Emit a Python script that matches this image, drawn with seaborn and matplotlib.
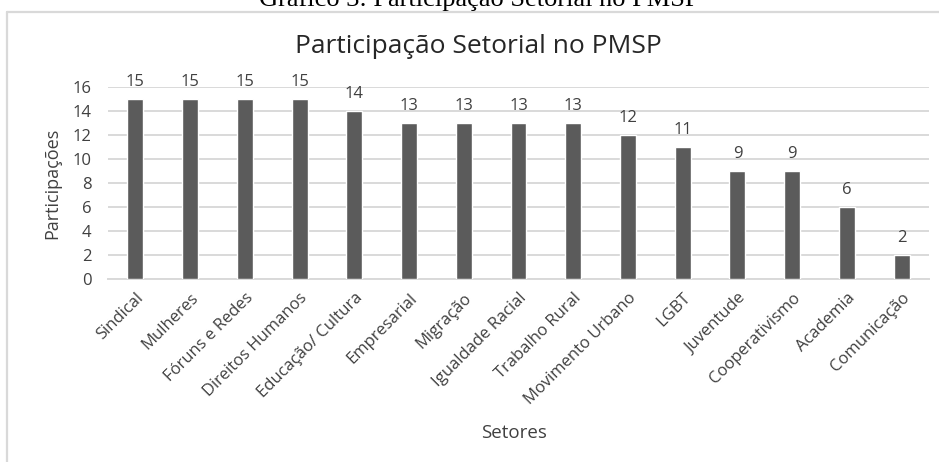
import matplotlib
matplotlib.use("Agg")
import matplotlib.pyplot as plt
from matplotlib.lines import Line2D
import seaborn as sns
import pandas as pd

setores = ["Sindical", "Mulheres", "Fóruns e Redes", "Direitos Humanos",
           "Educação/ Cultura", "Empresarial", "Migração", "Igualdade Racial",
           "Trabalho Rural", "Movimento Urbano", "LGBT", "Juventude",
           "Cooperativismo", "Academia", "Comunicação"]
participacoes = [15, 15, 15, 15, 14, 13, 13, 13, 13, 12, 11, 9, 9, 6, 2]
yticks = [0, 2, 4, 6, 8, 10, 12, 14, 16]

df = pd.DataFrame({"Setor": setores, "Participações": participacoes})

sns.set_theme(style="white")
plt.rcParams["font.family"] = ["Open Sans", "DejaVu Sans"]

W, H = 939, 462
fig = plt.figure(figsize=(W / 100, H / 100), dpi=100)
ax = fig.add_axes([108 / W, 1 - 279 / H, 821 / W, 192 / H])

sns.barplot(data=df, x="Setor", y="Participações", color="#5b5b5b",
            saturation=1, width=0.29, ax=ax, zorder=3)

ax.set_ylim(0, 16)
ax.set_yticks(yticks)
ax.set_yticklabels([str(v) for v in yticks], fontsize=12, color="#404040")
ax.yaxis.grid(True, color="#d9d9d9", linewidth=1.4, zorder=0)
ax.set_axisbelow(True)
ax.tick_params(axis="both", length=0)
ax.tick_params(axis="y", pad=12)
for s in ["top", "right", "left"]:
    ax.spines[s].set_visible(False)
ax.spines["bottom"].set_color("#d9d9d9")
ax.spines["bottom"].set_linewidth(1.4)

ax.set_xticks(range(len(setores)))
ax.set_xticklabels(setores, rotation=45, ha="right", rotation_mode="anchor",
                   fontsize=12, color="#404040")
ax.tick_params(axis="x", pad=8)

for i, v in enumerate(participacoes):
    ax.annotate(str(v), (i, v), xytext=(0, 9.4), textcoords="offset points",
                ha="center", va="baseline", fontsize=12, color="#404040",
                annotation_clip=False)

ax.set_xlabel("Setores", fontsize=13.5, color="#404040")
ax.set_ylabel("Participações", fontsize=13, color="#404040")
ax.xaxis.set_label_coords((514 - 108) / 821, -(424 - 279) / 192)
ax.yaxis.set_label_coords(-0.057, 0.5)

fig.text(478 / W, 1 - 53 / H, "Participação Setorial no PMSP", ha="center",
         va="baseline", fontsize=19, color="#262626")

# caption above the chart frame
fig.text(479 / W, 1 - 6 / H, "Gráfico 3: Participação Setorial no PMSP",
         ha="center", va="baseline", fontsize=19, color="black",
         family=["Liberation Serif", "DejaVu Serif"])

# chart frame
fig.add_artist(Line2D([7 / W, 7 / W], [0, 1 - 12 / H],
                      transform=fig.transFigure, color="#d9d9d9", linewidth=1.6))
fig.add_artist(Line2D([7 / W, 1], [1 - 12 / H, 1 - 12 / H],
                      transform=fig.transFigure, color="#d9d9d9", linewidth=1.6))

fig.savefig("out.png", dpi=100)
